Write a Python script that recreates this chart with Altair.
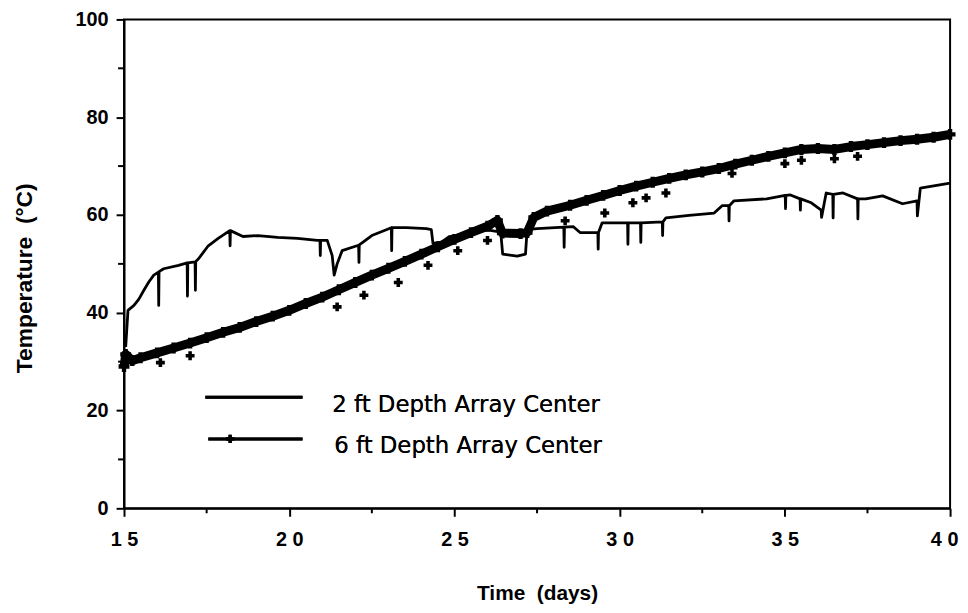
import altair as alt
import pandas as pd

# ---------------- data ----------------
days_2ft = [15.05, 15.12, 15.30, 15.45, 15.60, 15.75, 15.90,
            16.04, 16.05, 16.06, 16.20, 16.65,
            16.91, 16.92, 16.93, 17.15, 17.16, 17.17,
            17.25, 17.55, 17.85, 18.20, 18.21, 18.22,
            18.60, 19.05, 19.65, 20.25, 20.85,
            20.93, 20.94, 20.95, 21.15, 21.30, 21.36, 21.45, 21.60,
            22.05, 22.10, 22.11, 22.12, 22.50,
            23.09, 23.10, 23.11, 23.55, 24.15, 24.30, 24.35, 24.60, 24.85,
            25.35, 25.95, 26.40, 26.46, 26.90, 27.15, 27.20, 27.50, 28.05,
            28.31, 28.32, 28.33, 28.60, 28.80, 29.34, 29.35, 29.36, 29.47,
            30.24, 30.25, 30.26, 30.63, 30.64, 30.65,
            31.29, 31.30, 31.31, 31.40, 32.10, 32.86, 33.10,
            33.30, 33.31, 33.32, 33.46, 34.45,
            35.01, 35.02, 35.03, 35.17, 35.46, 35.47, 35.48, 35.80,
            36.10, 36.11, 36.25, 36.45, 36.46, 36.47, 36.76,
            37.20, 37.21, 37.22, 37.45, 37.96, 38.56,
            39.00, 39.01, 39.10, 40.00]
temp_2ft = [33.0, 40.5, 41.5, 42.8, 44.6, 46.3, 47.7,
            48.3, 41.5, 48.4, 49.0, 49.7,
            50.2, 43.4, 50.2, 50.4, 44.6, 50.5,
            51.0, 53.7, 55.2, 56.8, 53.7, 56.8,
            55.6, 55.8, 55.4, 55.2, 54.8,
            54.8, 51.7, 54.8, 54.8, 51.7, 47.7, 50.0, 52.7,
            53.7, 53.8, 50.3, 53.9, 55.8,
            57.4, 52.7, 57.4, 57.4, 57.2, 57.0, 54.2, 54.4, 55.6,
            56.2, 57.0, 56.5, 52.0, 51.6, 52.0, 57.0, 57.2, 57.4,
            57.5, 53.4, 57.5, 57.6, 56.4, 56.4, 53.0, 56.4, 58.4,
            58.4, 54.0, 58.4, 58.4, 54.4, 58.4,
            58.6, 55.8, 58.6, 59.4, 59.9, 60.4, 61.9,
            61.9, 58.8, 61.9, 62.9, 63.3,
            64.0, 61.3, 64.0, 64.1, 63.3, 61.0, 63.3, 62.5,
            61.0, 59.5, 64.5, 64.2, 59.4, 64.2, 64.5,
            63.3, 59.2, 63.3, 63.3, 63.9, 62.3,
            62.9, 59.8, 65.5, 66.5]

days_6ft = [15.00, 15.05, 15.25, 15.5, 16.0, 16.5, 17.0, 17.5, 18.0, 18.5,
            19.0, 19.5, 20.0, 20.5, 21.0, 21.5, 22.0, 22.5, 23.0, 23.5,
            24.0, 24.5, 25.0, 25.5, 26.0, 26.3, 26.45, 27.0, 27.2, 27.4,
            27.8, 28.5, 29.0, 29.5, 30.0, 30.5, 31.0, 31.5, 32.0, 32.5,
            33.0, 33.5, 34.0, 34.5, 35.0, 35.5, 36.0, 36.5, 37.0, 37.5,
            38.0, 38.5, 39.0, 39.5, 40.0]
temp_6ft = [29.0, 31.5, 30.2, 30.8, 31.8, 32.8, 33.8, 34.9, 36.0, 37.0,
            38.2, 39.3, 40.5, 41.9, 43.2, 44.7, 46.2, 47.7, 49.1, 50.5,
            52.0, 53.5, 55.0, 56.4, 57.7, 58.9, 56.3, 56.2, 56.4, 59.5,
            60.8, 62.0, 63.0, 64.0, 65.0, 65.9, 66.7, 67.5, 68.2, 68.8,
            69.5, 70.4, 71.2, 72.0, 72.7, 73.4, 73.6, 73.4, 74.0, 74.4,
            74.8, 75.2, 75.5, 75.9, 76.5]

# stray "+" markers of the 6 ft series lying below its band
days_6ft_marks = [16.1, 17.0, 21.45, 22.26, 23.3, 24.2, 25.1, 26.0, 28.35,
                  29.55, 30.4, 30.8, 31.4, 33.4, 35.0, 35.5, 36.5, 37.2]
temp_6ft_marks = [29.8, 31.2, 41.2, 43.6, 46.2, 49.7, 52.7, 54.8, 58.8,
                  60.4, 62.5, 63.5, 64.5, 68.5, 70.5, 71.2, 71.5, 72.0]

x_major = [15, 20, 25, 30, 35, 40]
x_minor = [17.5, 22.5, 27.5, 32.5, 37.5]
y_major = [0, 20, 40, 60, 80, 100]
y_minor = [10, 30, 50, 70, 90]
legend_labels = ["2 ft Depth Array Center", "6 ft Depth Array Center"]

# ---------------- frames ----------------
df2 = pd.DataFrame({"day": days_2ft, "temp": temp_2ft, "idx": list(range(len(days_2ft)))})
df6 = pd.DataFrame({"day": days_6ft, "temp": temp_6ft, "idx": list(range(len(days_6ft)))})
df6m = pd.DataFrame({"day": days_6ft_marks, "temp": temp_6ft_marks})
dfxm = pd.DataFrame({"day": x_minor})
dfym = pd.DataFrame({"temp": y_minor})
dflab = pd.DataFrame({"label": legend_labels})

FONT = "Liberation Sans"
W, H = 833, 493

xs = alt.Scale(domain=[15, 40], nice=False, zero=False)
ys = alt.Scale(domain=[0, 100], nice=False, zero=True)

x_axis = alt.Axis(values=x_major, title="Time\u00a0 (days)",
                  labelExpr="join(split(datum.label, ''), ' ')",
                  labelPadding=13, labelFlush=False, labelOverlap=False,
                  labelOffset={"condition": {"test": "datum.value === 40", "value": -6}, "value": 0},
                  titleY=96, titleBaseline="bottom", titlePadding=0)
y_axis = alt.Axis(values=y_major, title="Temperature\u00a0 (°C)",
                  labelPadding=8, labelFlush=False, labelOverlap=False,
                  titleX=-100, titleY=H / 2 + 14, titleAngle=270, titleFontSize=23,
                  titleAlign="center", titleBaseline="middle")

X = alt.X("day:Q", scale=xs, axis=x_axis)
Y = alt.Y("temp:Q", scale=ys, axis=y_axis)

line2 = alt.Chart(df2).mark_line(color="black", strokeWidth=2.8, strokeJoin="round").encode(
    x=X, y=Y, order="idx:Q")

line6 = alt.Chart(df6).mark_line(color="black", strokeWidth=9, strokeJoin="round").encode(
    x=X, y=Y, order="idx:Q")

pts6 = alt.Chart(df6).mark_point(shape="cross", filled=True, color="black", size=120, opacity=1).encode(
    x=X, y=Y)

pts6m = alt.Chart(df6m).mark_point(shape="cross", filled=True, color="black", size=80, opacity=1).encode(
    x=X, y=Y)

xminor = alt.Chart(dfxm).mark_rule(color="black", strokeWidth=2).encode(
    x=X, y=alt.value(H), y2=alt.value(H + 5))
yminor = alt.Chart(dfym).mark_rule(color="black", strokeWidth=2).encode(
    y=Y, x=alt.value(-6), x2=alt.value(0))

# manual legend
leg_line1 = alt.Chart(dflab).mark_rule(color="black", strokeWidth=2.8).encode(
    x=alt.value(82), x2=alt.value(180), y=alt.value(381))
leg_line2 = alt.Chart(dflab).mark_rule(color="black", strokeWidth=3).encode(
    x=alt.value(85), x2=alt.value(180), y=alt.value(423))
leg_cross = alt.Chart(dflab).mark_point(shape="cross", filled=True, color="black", size=70, opacity=1).encode(
    x=alt.value(107), y=alt.value(423))
leg_text1 = alt.Chart(dflab).mark_text(align="left", baseline="middle", font="DejaVu Sans",
                                       fontSize=23, color="black").encode(
    x=alt.value(210), y=alt.value(389), text=alt.value(legend_labels[0]))
leg_text2 = alt.Chart(dflab).mark_text(align="left", baseline="middle", font="DejaVu Sans",
                                       fontSize=23, color="black").encode(
    x=alt.value(212), y=alt.value(430), text=alt.value(legend_labels[1]))

chart = alt.layer(
    line2, line6, pts6, pts6m, xminor, yminor,
    leg_line1, leg_line2, leg_cross, leg_text1, leg_text2
).properties(
    width=W, height=H,
    autosize=alt.AutoSizeParams(type="none"),
    padding={"left": 117, "top": 9, "right": 10, "bottom": 98},
).configure_view(
    stroke="black", strokeWidth=2
).configure_axis(
    grid=False,
    domainColor="black", domainWidth=2,
    tickColor="black", tickWidth=2, tickSize=8,
    labelFont=FONT, labelFontSize=20, labelFontWeight="bold", labelColor="black",
    titleFont=FONT, titleFontSize=21, titleFontWeight="bold", titleColor="black",
)

chart.save("out.html", embed_options={"renderer": "svg", "actions": False})
